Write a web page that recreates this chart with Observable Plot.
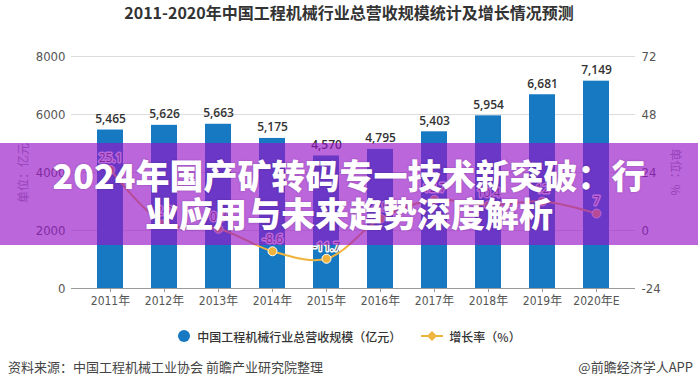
<!DOCTYPE html>
<html>
<head>
<meta charset="utf-8">
<script src="https://cdn.jsdelivr.net/npm/d3@7"></script>
<script src="https://cdn.jsdelivr.net/npm/@observablehq/plot@0.6"></script>
<style>
  body { margin: 0; background: #fff; }
  #wrap { position: relative; width: 698px; height: 389px; overflow: hidden; background: #fff; }
  #title { position: absolute; top: 0; left: 0; width: 698px; height: 40px; line-height: 40px; text-align: center;
    font: bold 16px "Noto Sans CJK SC", sans-serif; color: #333; }
  #chart { position: absolute; top: 40px; left: 0; }
  .ytitle { position: absolute; font: 12px "Noto Sans CJK SC", sans-serif; color: #999; white-space: nowrap; }
  #legend { position: absolute; top: 326px; left: 0; width: 698px; height: 20px; display: flex; justify-content: center;
    align-items: center; font: 12px "Noto Sans CJK SC", sans-serif; color: #333; }
  #footer { position: absolute; top: 356px; left: 8px; width: 685px; height: 20px; display: flex; justify-content: space-between;
    align-items: center; font: 13px "Noto Sans CJK SC", sans-serif; color: #444; }
  #banner { position: absolute; left: 0; top: 143px; width: 698px; height: 102px; background: rgba(150, 20, 200, 0.65);
    display: flex; flex-direction: column; justify-content: center; align-items: center; color: #fff;
    font: 900 34px/38px "Noto Sans CJK SC", sans-serif; text-shadow: 0 0 2px rgba(60,0,80,0.35); }
</style>
</head>
<body>
<div id="wrap">
  <div id="title">2011-2020年中国工程机械行业总营收规模统计及增长情况预测</div>
  <div id="chart"></div>
  <div class="ytitle" id="yl">单位：亿元</div>
  <div class="ytitle" id="yr">单位：%</div>
  <div id="legend"></div>
  <div id="footer"><span>资料来源：中国工程机械工业协会 前瞻产业研究院整理</span><span>@前瞻经济学人APP</span></div>
  <div id="banner"><div>2024年国产矿转码专一技术新突破：行</div><div>业应用与未来趋势深度解析</div></div>
</div>
<script>
const years = ["2011年","2012年","2013年","2014年","2015年","2016年","2017年","2018年","2019年","2020年E"];
const revenue = [5465, 5626, 5663, 5175, 4570, 4795, 5403, 5954, 6681, 7149];
const growth = [25.1, 2.9, 0.7, -8.6, -11.7, 4.9, 12.7, 10.4, 12, 7];
const leftTicks = [0, 2000, 4000, 6000, 8000];
const rightTicks = [-24, 0, 24, 48, 72];
const seriesNames = ["中国工程机械行业总营收规模（亿元）", "增长率（%）"];

const barColor = "#1779c2";
const lineColor = "#f0b33c";

const rows = years.map((year, i) => ({year, revenue: revenue[i], growth: growth[i]}));
const rMin = rightTicks[0], rMax = rightTicks[rightTicks.length - 1];
const lMin = leftTicks[0], lMax = leftTicks[leftTicks.length - 1];
const toLeft = g => lMin + (g - rMin) / (rMax - rMin) * (lMax - lMin);

const axisFont = "'Liberation Sans Narrow', 'DejaVu Sans Condensed', 'Noto Sans CJK SC', sans-serif";

const chart = Plot.plot({
  width: 698,
  height: 280,
  marginTop: 16,
  marginBottom: 32,
  marginLeft: 71,
  marginRight: 63,
  style: {fontFamily: axisFont, fontSize: "12px", color: "#555", background: "transparent"},
  x: {type: "band", domain: years, paddingInner: 0.52, paddingOuter: 0.4},
  y: {domain: [lMin, lMax]},
  marks: [
    Plot.gridY(leftTicks, {stroke: "#dcdcdc", strokeOpacity: 1}),
    Plot.barY(rows, {x: "year", y: "revenue", fill: barColor}),
    Plot.ruleY([0], {stroke: "#9a9a9a"}),
    Plot.axisY(leftTicks, {anchor: "left", tickSize: 0, tickPadding: 6, label: null, fontSize: 13,
      tickFormat: v => String(v)}),
    Plot.axisY(leftTicks, {anchor: "right", tickSize: 0, tickPadding: 6, label: null, fontSize: 13,
      tickFormat: v => String(rightTicks[leftTicks.indexOf(v)])}),
    Plot.axisX({tickSize: 4, tickPadding: 4, label: null, stroke: "#9a9a9a", fontSize: 12}),
    Plot.text(rows, {x: "year", y: "revenue", text: d => d3.format(",")(d.revenue), dy: -11,
      fill: "#333", fontWeight: 600, fontSize: 12, fontFamily: "'Open Sans', sans-serif"}),
    Plot.line(rows, {x: "year", y: d => toLeft(d.growth), stroke: lineColor, strokeWidth: 2, curve: "catmull-rom"}),
    Plot.dot(rows, {x: "year", y: d => toLeft(d.growth), r: 4.5, fill: lineColor, stroke: "#fff", strokeWidth: 1}),
    Plot.text(rows, {x: "year", y: d => toLeft(d.growth), text: d => String(d.growth), dy: -12,
      fill: "#555", stroke: "#fff", strokeWidth: 3, fontSize: 12, fontFamily: "'Open Sans', sans-serif"})
  ]
});
document.getElementById("chart").appendChild(chart);

// rotated axis titles
const yl = document.getElementById("yl");
yl.style.left = "22px"; yl.style.top = "173px";
yl.style.transform = "translate(-50%, -50%) rotate(-90deg)";
const yr = document.getElementById("yr");
yr.style.left = "676px"; yr.style.top = "172px";
yr.style.transform = "translate(-50%, -50%) rotate(90deg)";

// legend
const legend = document.getElementById("legend");
legend.innerHTML =
  `<svg width="14" height="14" style="margin-right:6px"><circle cx="7" cy="7" r="6" fill="${barColor}"/></svg>` +
  `<span style="font-weight:500">${seriesNames[0]}</span>` +
  `<svg width="26" height="14" style="margin-left:18px;margin-right:4px"><line x1="2" y1="7" x2="24" y2="7" stroke="${lineColor}" stroke-width="2"/><path d="M13 2 L18 7 L13 12 L8 7 Z" fill="${lineColor}"/></svg>` +
  `<span style="font-weight:500">${seriesNames[1]}</span>`;
</script>
</body>
</html>
